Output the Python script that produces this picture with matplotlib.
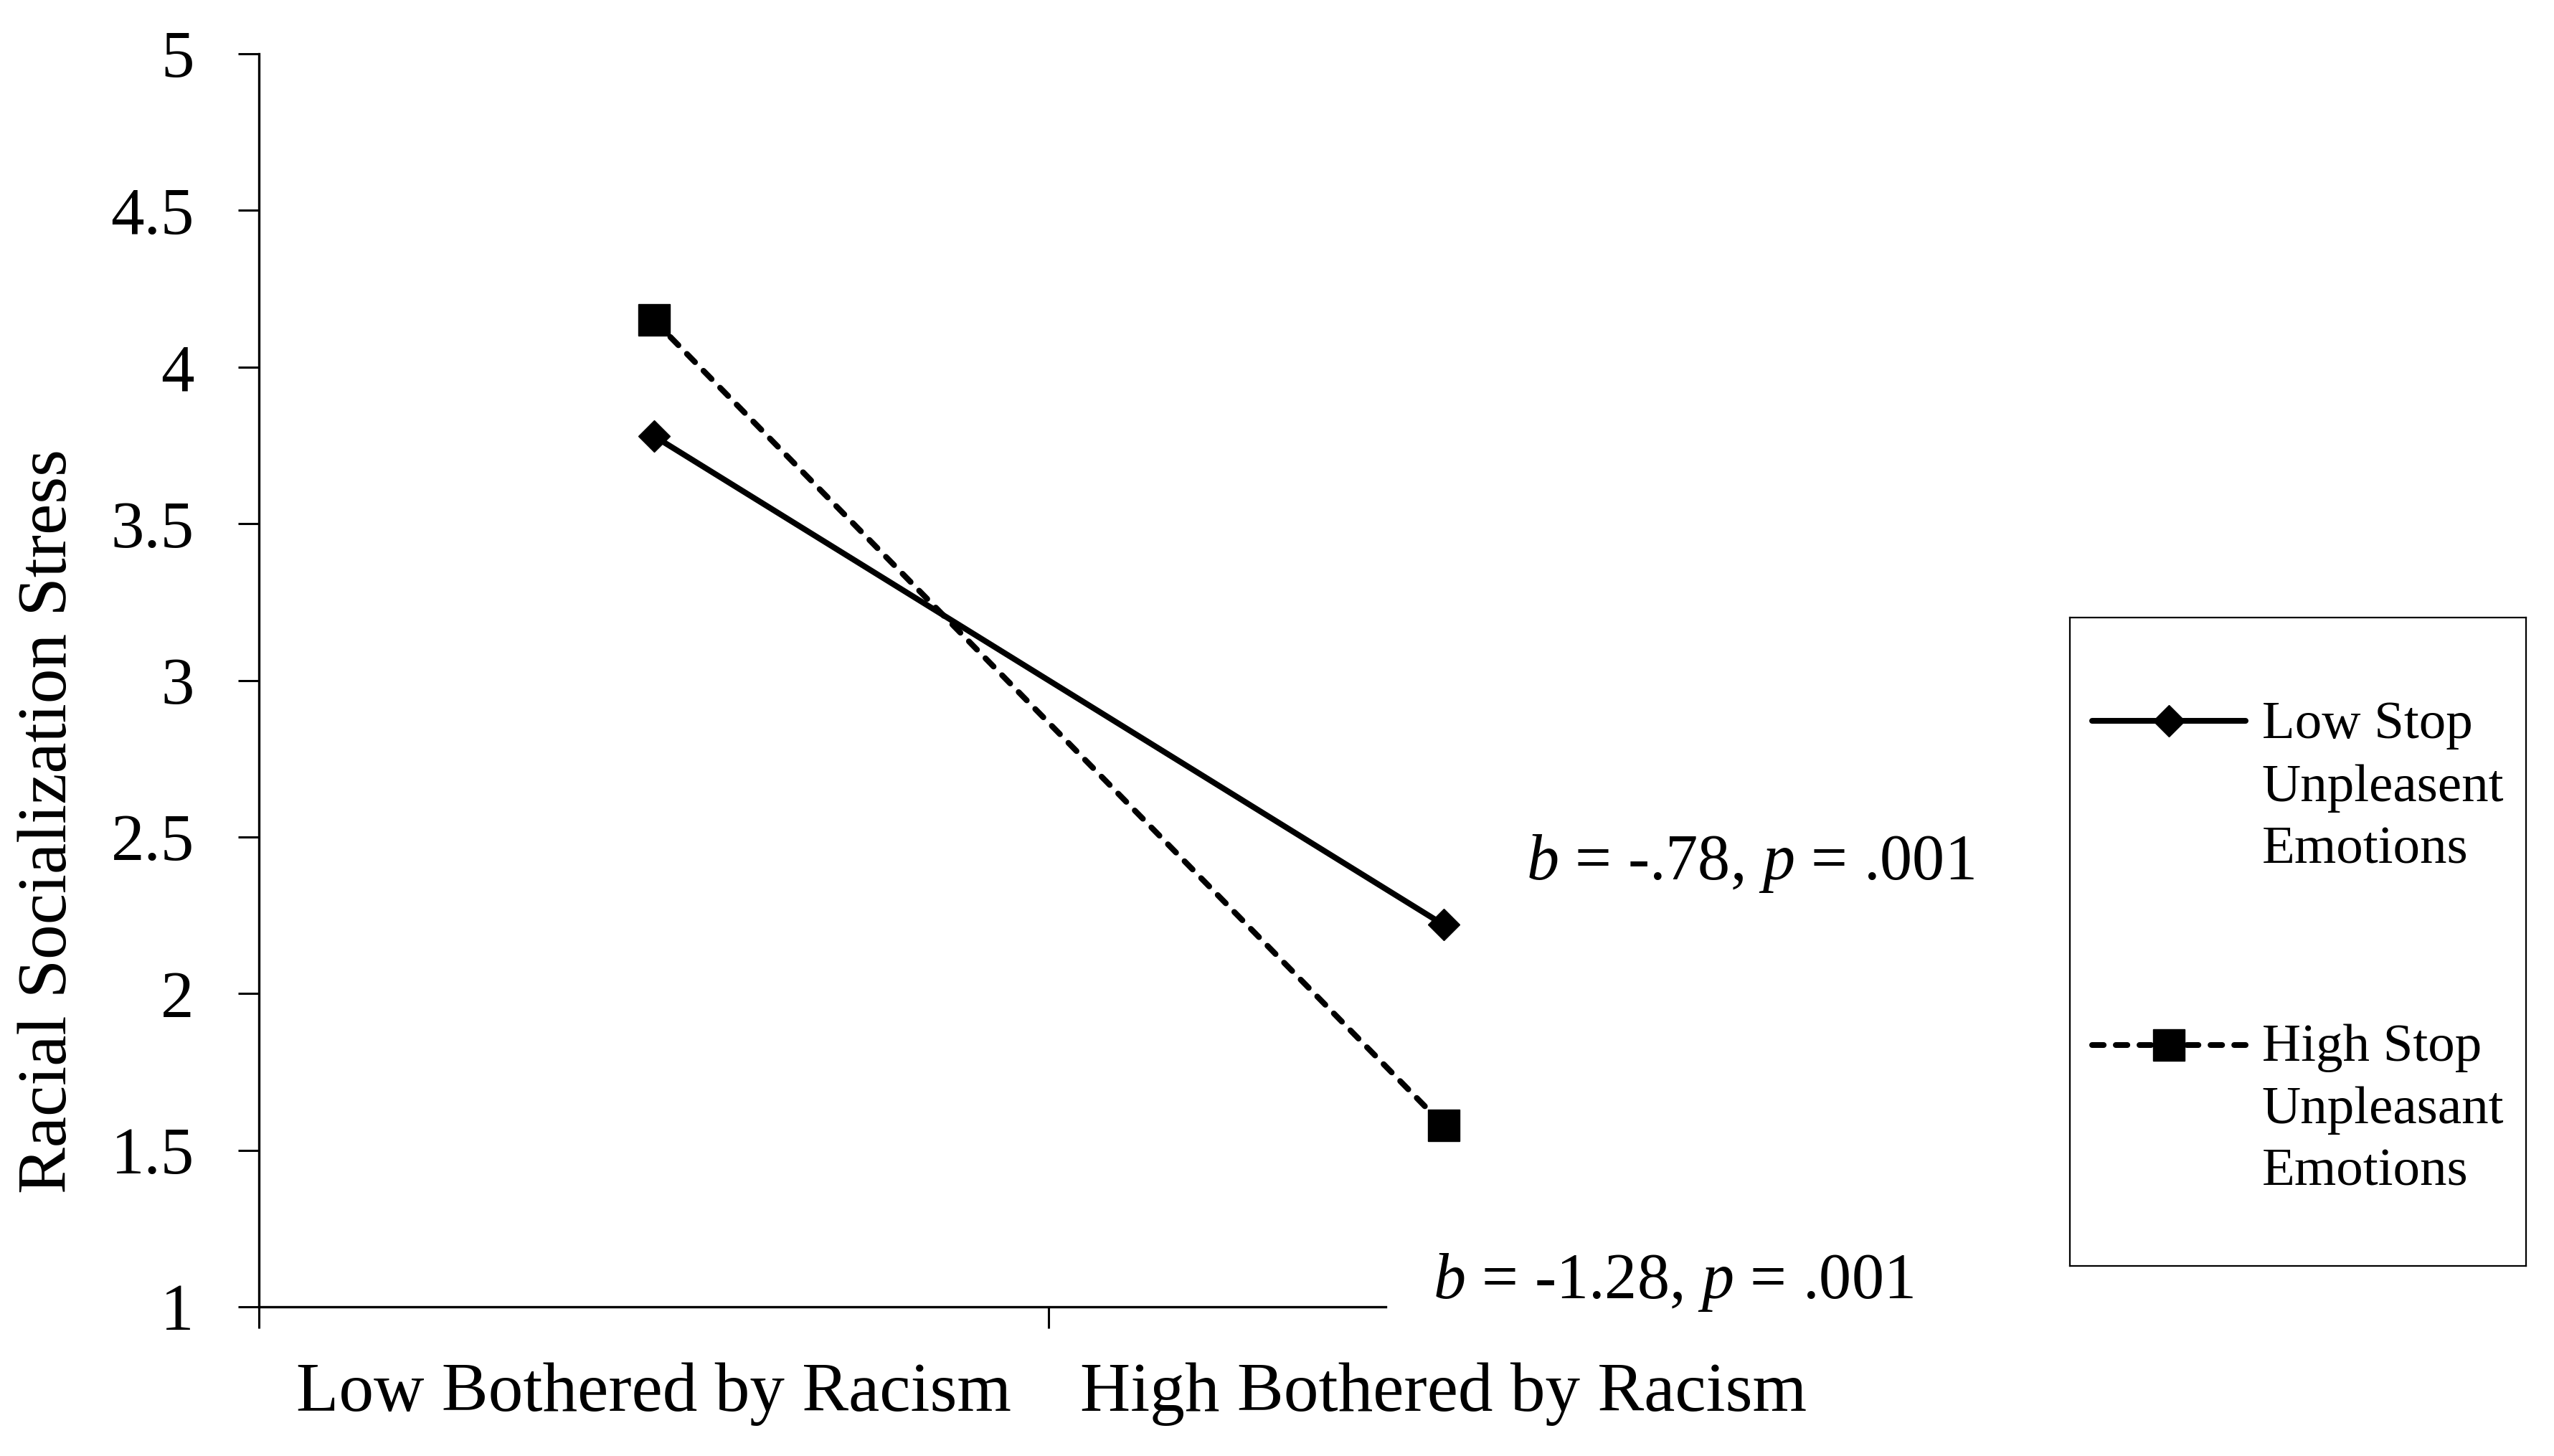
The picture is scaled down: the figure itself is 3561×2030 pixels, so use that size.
import matplotlib
matplotlib.use("Agg")
import matplotlib.pyplot as plt

# ---------------- data ----------------
categories = ["Low Bothered by Racism", "High Bothered by Racism"]
series_names = ["Low Stop\nUnpleasent\nEmotions", "High Stop\nUnpleasant\nEmotions"]
low_stop = [3.78, 2.22]
high_stop = [4.15, 1.58]
y_ticks = [1, 1.5, 2, 2.5, 3, 3.5, 4, 4.5, 5]
y_tick_labels = ["1", "1.5", "2", "2.5", "3", "3.5", "4", "4.5", "5"]
annotations = ["$b$ = -.78, $p$ = .001", "$b$ = -1.28, $p$ = .001"]
y_label = "Racial Socialization Stress"

# ---------------- style ----------------
plt.rcParams['font.family'] = ['Liberation Serif', 'DejaVu Serif']
plt.rcParams['mathtext.fontset'] = 'custom'
plt.rcParams['mathtext.it'] = 'Liberation Serif:italic'
plt.rcParams['mathtext.rm'] = 'Liberation Serif'

W, H = 3561, 2030
DPI = 100
fig = plt.figure(figsize=(W / DPI, H / DPI), dpi=DPI)
fig.patch.set_facecolor('white')

ax = fig.add_axes([361 / W, 1 - 1822 / H, (2563 - 361) / W, (1822 - 75) / H])
x = list(range(len(categories)))

LW = 5.8
DASH = (0, (2, 2.1))
ax.plot(x, low_stop, color='black', lw=LW, marker='D', ms=22.5, mew=1,
        solid_capstyle='round', zorder=3, clip_on=False)
ax.plot(x, high_stop, color='black', lw=LW, ls=DASH, dash_capstyle='round',
        marker='s', ms=32, mew=1, zorder=3, clip_on=False)

ax.set_xlim(-0.5, 1.5)
ax.set_ylim(1, 5)
ax.set_yticks(y_ticks)
ax.set_yticklabels(y_tick_labels)
ax.set_xticks([-0.5, 0.5])
ax.set_xticklabels(["", ""])
ax.set_xticks(x, minor=True)
ax.set_xticklabels(categories, minor=True)

ax.tick_params(axis='x', which='major', length=21.6, width=2.2, direction='out')
ax.tick_params(axis='x', which='minor', length=0, pad=56, labelsize=70)
ax.tick_params(axis='y', length=21, width=2.2, direction='out', pad=44, labelsize=67)

for s in ['top', 'right']:
    ax.spines[s].set_visible(False)
for s in ['left', 'bottom']:
    ax.spines[s].set_linewidth(2.4)
# the x axis line is hidden under the white annotation box beyond this point
ax.spines['bottom'].set_bounds(-0.5, 0.927)

ax.set_ylabel(y_label, fontsize=70)
ax.yaxis.set_label_coords(-0.1328, 0.3875)
ax.yaxis.label.set_va('center')

# annotations
ax.text(1.105, 2.364, annotations[0], fontsize=65, ha='left', va='baseline', clip_on=False)
ax.text(0.987, 1.027, annotations[1], fontsize=65, ha='left', va='baseline', clip_on=False)

# ---------------- legend ----------------
lax = fig.add_axes([2886 / W, 1 - 1765 / H, 636 / W, 904 / H])
lax.set_xlim(0, 1)
lax.set_ylim(0, 1)
lax.set_xticks([])
lax.set_yticks([])
for s in lax.spines.values():
    s.set_linewidth(1.6)

lax.plot([0.049, 0.217, 0.385], [0.841] * 3, color='black', lw=LW, marker='D',
         ms=22.5, mew=1, markevery=[1], solid_capstyle='round')
lax.plot([0.049, 0.217, 0.385], [0.341] * 3, color='black', lw=LW,
         ls=DASH, dash_capstyle='round', marker='s', ms=32, mew=1, markevery=[1])
# multi-line labels: anchored at the baseline of their last line
lax.text(0.421, 0.621, series_names[0], fontsize=54, ha='left', va='baseline',
         linespacing=1.38)
lax.text(0.421, 0.124, series_names[1], fontsize=54, ha='left', va='baseline',
         linespacing=1.38)

fig.savefig("out.png", dpi=DPI, facecolor='white')
